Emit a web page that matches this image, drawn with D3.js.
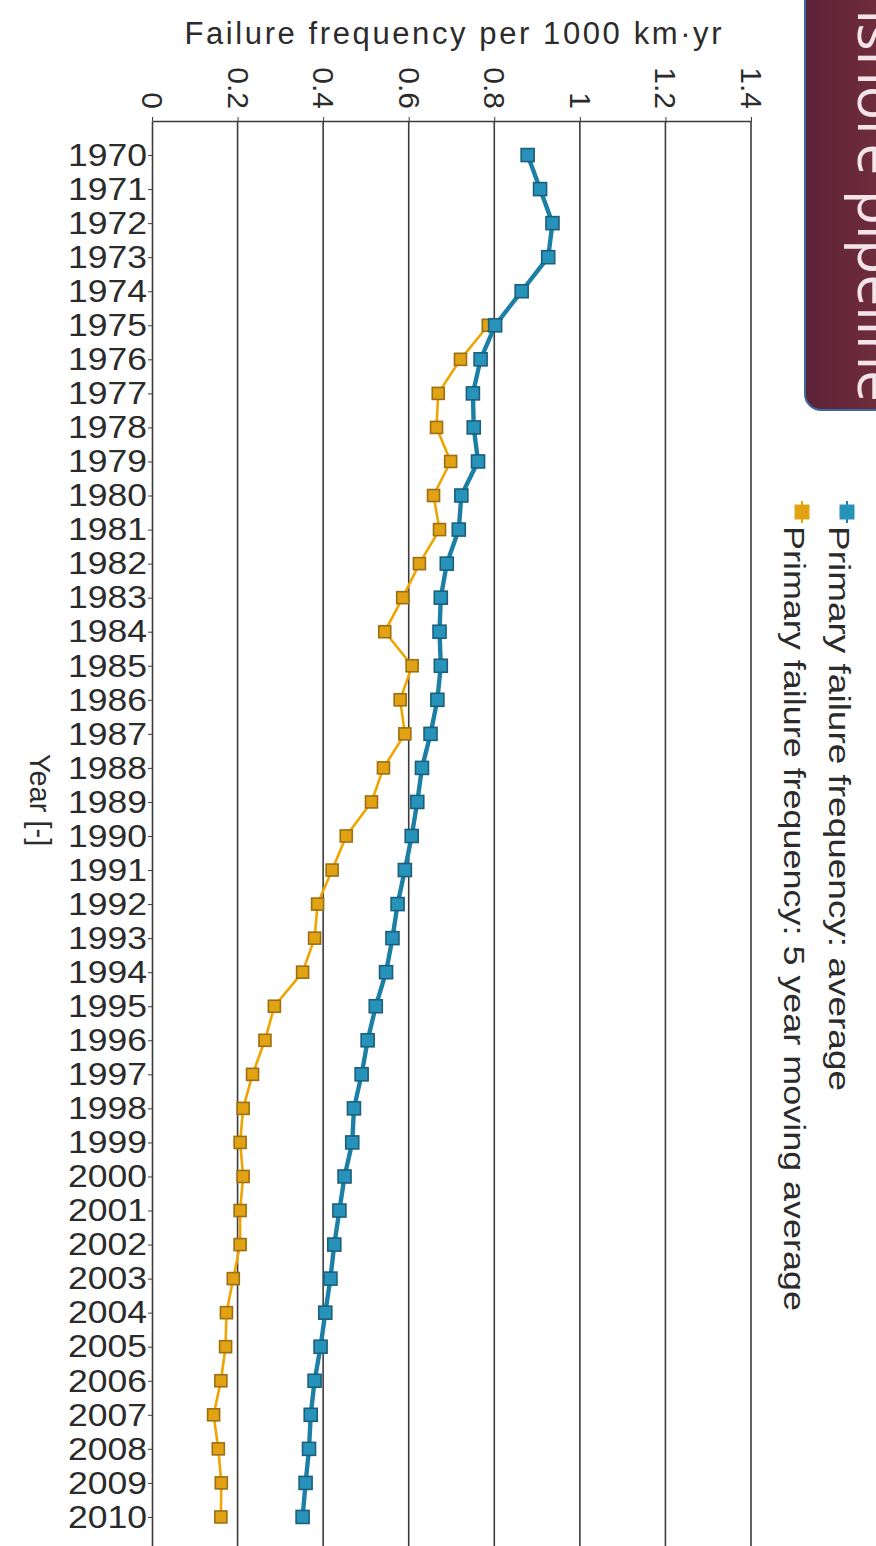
<!DOCTYPE html>
<html>
<head>
<meta charset="utf-8">
<script src="https://cdn.jsdelivr.net/npm/d3@7/dist/d3.min.js"></script>
<style>
  html, body { margin: 0; padding: 0; background: #fff; }
  svg { display: block; }
  text { font-family: "Liberation Sans", Arial, Helvetica, sans-serif; fill: #2b2b2b; }
</style>
</head>
<body>
<svg id="chart" width="876" height="1546"></svg>
<script>
// Primary failure frequency of onshore pipelines, per 1000 km·yr
const years = [1970,1971,1972,1973,1974,1975,1976,1977,1978,1979,
               1980,1981,1982,1983,1984,1985,1986,1987,1988,1989,
               1990,1991,1992,1993,1994,1995,1996,1997,1998,1999,
               2000,2001,2002,2003,2004,2005,2006,2007,2008,2009,2010];

const averageValues = [0.878,0.907,0.936,0.926,0.864,0.802,0.768,0.750,0.752,0.762,
                       0.723,0.717,0.689,0.675,0.672,0.675,0.667,0.651,0.631,0.620,
                       0.607,0.591,0.574,0.562,0.547,0.523,0.504,0.490,0.472,0.468,
                       0.450,0.438,0.426,0.417,0.405,0.394,0.380,0.371,0.367,0.359,0.352];

const movingAverageValues = [null,null,null,null,null,0.786,0.721,0.669,0.665,0.698,
                       0.658,0.672,0.625,0.586,0.544,0.608,0.580,0.591,0.541,0.513,
                       0.454,0.421,0.387,0.380,0.352,0.286,0.264,0.235,0.213,0.206,
                       0.213,0.206,0.206,0.190,0.174,0.172,0.161,0.144,0.155,0.162,0.161];

const valueTicks = [0, 0.2, 0.4, 0.6, 0.8, 1, 1.2, 1.4];
const seriesNames = ["Primary failure frequency: average",
                     "Primary failure frequency: 5 year moving average"];
const valueTitle = "Failure frequency per 1000 km·yr";
const yearTitle = "Year [-]";
const panelTitle = "Onshore pipeline";

const svg = d3.select("#chart");

// Value axis runs left→right along the top; years run top→bottom
const x = d3.scaleLinear().domain([0, 1.4]).range([152, 751]);
const y = d3.scaleLinear().domain([1969, 2011]).range([121, 1551]);

const teal = { line: "#1b7fa6", fill: "#2793ba", stroke: "#1c5f7c" };
const gold = { line: "#f0a400", fill: "#e1a314", stroke: "#9c6f12" };

// Panel title tab (upper right)
const defs = svg.append("defs");
const grad = defs.append("linearGradient").attr("id", "tab").attr("x1", 0).attr("x2", 1).attr("y1", 0).attr("y2", 0);
grad.append("stop").attr("offset", "0%").attr("stop-color", "#5c2138");
grad.append("stop").attr("offset", "45%").attr("stop-color", "#6b2a3b");
grad.append("stop").attr("offset", "100%").attr("stop-color", "#74323f");
svg.append("rect")
  .attr("x", 805).attr("y", -40).attr("width", 120).attr("height", 450)
  .attr("rx", 16).attr("fill", "url(#tab)")
  .attr("stroke", "#3d69a3").attr("stroke-width", 2);
svg.append("text")
  .attr("transform", "translate(858,402) rotate(90)")
  .attr("text-anchor", "end")
  .style("font-family", "'Open Sans', 'Noto Sans', sans-serif")
  .style("font-size", "57px")
  .style("fill", "#f4e4ea")
  .text(panelTitle);

// Vertical gridlines
svg.append("g").selectAll("line")
  .data(valueTicks.filter(d => d > 0))
  .join("line")
  .attr("x1", d => x(d)).attr("x2", d => x(d))
  .attr("y1", y.range()[0]).attr("y2", y.range()[1])
  .attr("stroke", "#3c3c3c").attr("stroke-width", 1.6);

// Top value axis
const topAxis = svg.append("g")
  .attr("transform", `translate(0,${y.range()[0]})`)
  .call(d3.axisTop(x).tickValues(valueTicks).tickFormat(d3.format("~g")).tickSize(4).tickSizeOuter(0));
topAxis.select(".domain").attr("stroke", "#3c3c3c").attr("stroke-width", 1.6);
topAxis.selectAll(".tick line").attr("stroke", "#3c3c3c");
topAxis.selectAll(".tick text")
  .attr("transform", "rotate(90)")
  .attr("x", -12).attr("y", 0).attr("dy", "0.35em")
  .attr("text-anchor", "end")
  .style("font-size", "30px").style("font-family", "'Liberation Sans', Arial, sans-serif")
  .attr("fill", "#2b2b2b");

// Left year axis
const leftAxis = svg.append("g")
  .attr("transform", `translate(${x.range()[0]},0)`)
  .call(d3.axisLeft(y).tickValues(years).tickFormat(d3.format("d")).tickSize(4).tickPadding(1).tickSizeOuter(0));
leftAxis.select(".domain").attr("stroke", "#3c3c3c").attr("stroke-width", 1.6);
leftAxis.selectAll(".tick line").attr("stroke", "#3c3c3c");
leftAxis.selectAll(".tick text")
  .style("font-size", "32px").style("font-family", "'Liberation Sans', Arial, sans-serif")
  .attr("textLength", 79).attr("lengthAdjust", "spacingAndGlyphs")
  .attr("fill", "#2b2b2b");

// Axis titles
svg.append("text")
  .attr("x", 453).attr("y", 44)
  .attr("text-anchor", "middle")
  .attr("textLength", 537).attr("lengthAdjust", "spacing")
  .style("font-size", "31px")
  .text(valueTitle);
svg.append("text")
  .attr("transform", "translate(30,800) rotate(90)")
  .attr("text-anchor", "middle")
  .style("font-size", "29px")
  .text(yearTitle);

// Series
const series = [
  { name: seriesNames[1], values: movingAverageValues, c: gold, width: 2.6, size: 12 },
  { name: seriesNames[0], values: averageValues, c: teal, width: 4.4, size: 13 }
];
const line = d3.line()
  .defined(d => d.v != null)
  .x(d => x(d.v)).y(d => y(d.year));

series.forEach(s => {
  const pts = years.map((year, i) => ({ year, v: s.values[i] }));
  const g = svg.append("g");
  g.append("path")
    .datum(pts)
    .attr("d", line)
    .attr("fill", "none")
    .attr("stroke", s.c.line)
    .attr("stroke-width", s.width)
    .attr("stroke-linejoin", "round");
  g.selectAll("rect")
    .data(pts.filter(d => d.v != null))
    .join("rect")
    .attr("x", d => x(d.v) - s.size / 2)
    .attr("y", d => y(d.year) - s.size / 2)
    .attr("width", s.size).attr("height", s.size)
    .attr("fill", s.c.fill)
    .attr("stroke", s.c.stroke)
    .attr("stroke-width", 1.6);
});

// Legend (rotated, upper right)
const legendItems = [
  { name: seriesNames[0], c: teal, cx: 847, len: 565 },
  { name: seriesNames[1], c: gold, cx: 802, len: 785 }
];
legendItems.forEach(it => {
  const g = svg.append("g");
  g.append("line")
    .attr("x1", it.cx).attr("x2", it.cx)
    .attr("y1", 501).attr("y2", 523)
    .attr("stroke", it.c.line).attr("stroke-width", 2);
  g.append("rect")
    .attr("x", it.cx - 7).attr("y", 505)
    .attr("width", 14).attr("height", 14)
    .attr("fill", it.c.fill).attr("stroke", it.c.fill).attr("stroke-width", 1);
  g.append("text")
    .attr("transform", `translate(${it.cx - 18},526) rotate(90)`)
    .attr("textLength", it.len).attr("lengthAdjust", "spacingAndGlyphs")
    .style("font-size", "30px")
    .text(it.name);
});
</script>
</body>
</html>
